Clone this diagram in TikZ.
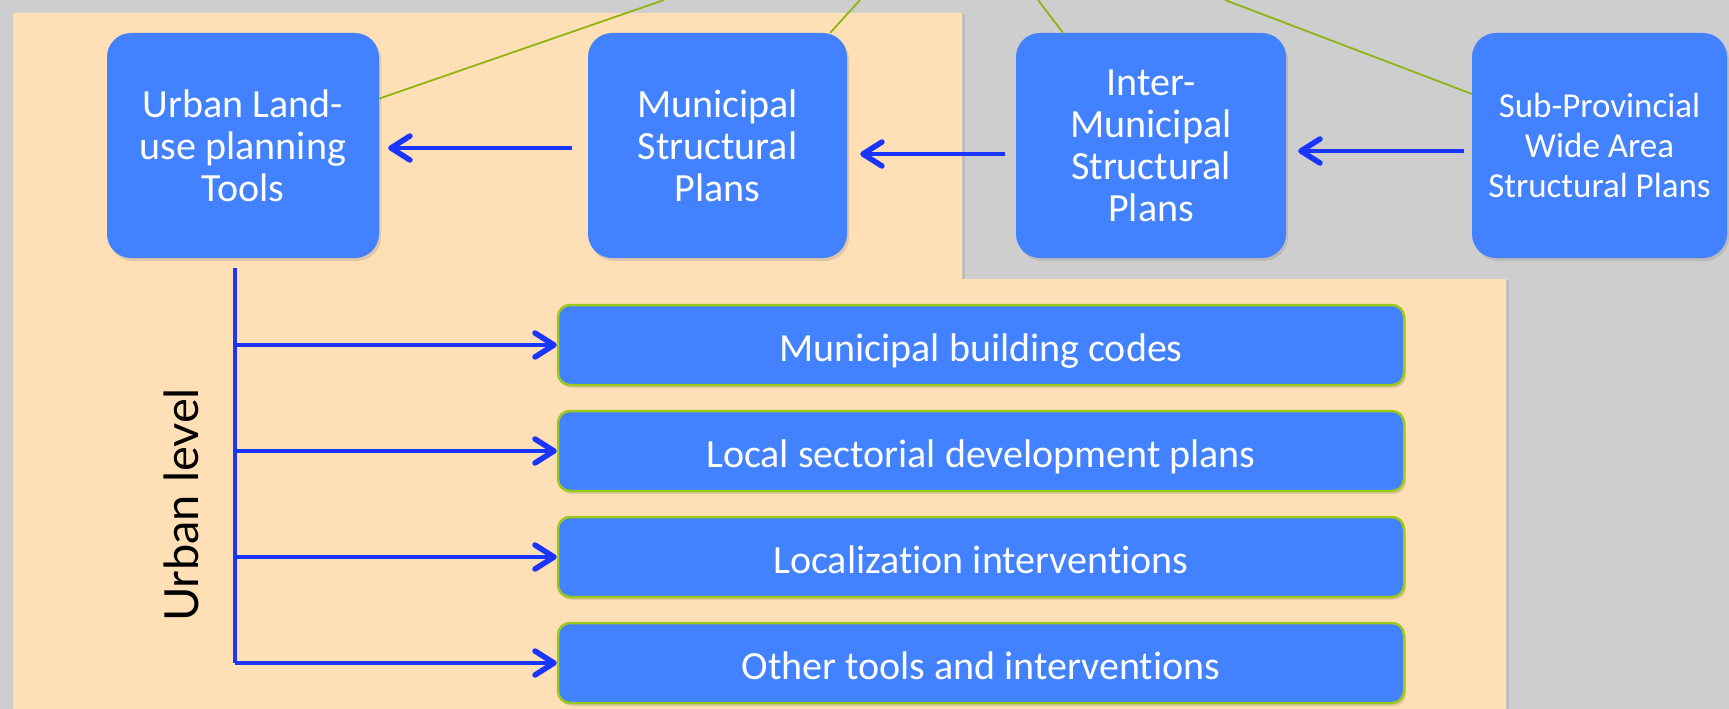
\documentclass[tikz,border=0pt]{standalone}
\usepackage{fontspec}
\setmainfont{Carlito}[Ligatures=NoCommon]
\newfontfamily\latofont{Lato}
\usetikzlibrary{arrows.meta,shadows}

\definecolor{canvas}{HTML}{CECECE}
\definecolor{peach}{HTML}{FFDFB5}
\definecolor{boxblue}{HTML}{4281FF}
\definecolor{arrblue}{HTML}{1A35FF}
\definecolor{leaf}{HTML}{8DB412}
\definecolor{rim}{HTML}{9CC81A}

\tikzset{
  planbox/.style={fill=boxblue, text=white, rounded corners=24pt, inner sep=0pt,
    align=center, minimum height=225pt, font=\fontsize{40}{42}\selectfont,
    drop shadow={shadow xshift=2pt, shadow yshift=-3pt, opacity=.25}},
  toolbox/.style={planbox, draw=rim, line width=2.5pt, rounded corners=12pt,
    minimum width=846pt, minimum height=80pt, text height=33pt, text depth=0pt},
  arr/.style={draw=arrblue, line width=3.5pt,
    -{Straight Barb[length=19pt, width=24pt, line width=5.5pt, round]}},
  trunkline/.style={draw=arrblue, line width=3.5pt},
  link/.style={draw=leaf, line width=1.8pt}
}

\begin{document}
\begin{tikzpicture}[x=1pt, y=-1pt]

\useasboundingbox (0,0) rectangle (1729,709);
\fill[canvas] (0,0) rectangle (1729,709);
\path[fill=peach, drop shadow={shadow xshift=3pt, shadow yshift=-1pt, opacity=.2}]
  (13,13) -- (962,13) -- (962,279) -- (1506,279) -- (1506,715) -- (13,715) -- cycle;

% upper row
\node[planbox, minimum width=272pt] (urban) at (243,145.5) {Urban Land-\\use planning\\Tools};
\node[planbox, minimum width=259pt] (muni) at (717.5,145.5) {Municipal\\Structural\\Plans};
\node[planbox, minimum width=270pt] (inter) at (1151,145.5) {Inter-\\Municipal\\Structural\\Plans};
\node[planbox, minimum width=255pt, font=\fontsize{35}{40}\selectfont] (subprov) at (1599.5,145.5) {Sub-Provincial\\Wide Area\\Structural Plans};

\coordinate (g1) at (664,0);
\coordinate (g2) at (860,0);
\coordinate (g3) at (1038,0);
\coordinate (g4) at (1225,0);
\draw[link] (g1) -- (urban.19);
\draw[link] (g2) -- (muni.45.5);
\draw[link] (g3) -- (inter.128);
\draw[link] (g4) -- (subprov.158);

\draw[arr, shorten <=16pt, shorten >=9pt] ([yshift=-2.5pt]muni.west) -- ([yshift=-2.5pt]urban.east);
\draw[arr, shorten <=11pt, shorten >=13pt] ([yshift=-8.5pt]inter.west) -- ([yshift=-8.5pt]muni.east);
\draw[arr, shorten <=8pt, shorten >=12pt] ([yshift=-5.5pt]subprov.west) -- ([yshift=-5.5pt]inter.east);

% urban level
\node[toolbox] (codes) at (981,345) {Municipal building codes};
\node[toolbox] (sector) at (981,451) {Local sectorial development plans};
\node[toolbox] (local) at (981,557) {Localization interventions};
\node[toolbox] (other) at (981,663) {Other tools and interventions};

\coordinate (trunk) at (235,268);
\draw[trunkline] (trunk) -- (trunk |- other.west);
\foreach \n in {codes,sector,local,other}
  \draw[arr] (trunk |- \n.west) -- (\n.west);

\node[rotate=90, font=\latofont\fontsize{47}{47}\selectfont] (level) at (181,505) {Urban level};

\end{tikzpicture}
\end{document}
